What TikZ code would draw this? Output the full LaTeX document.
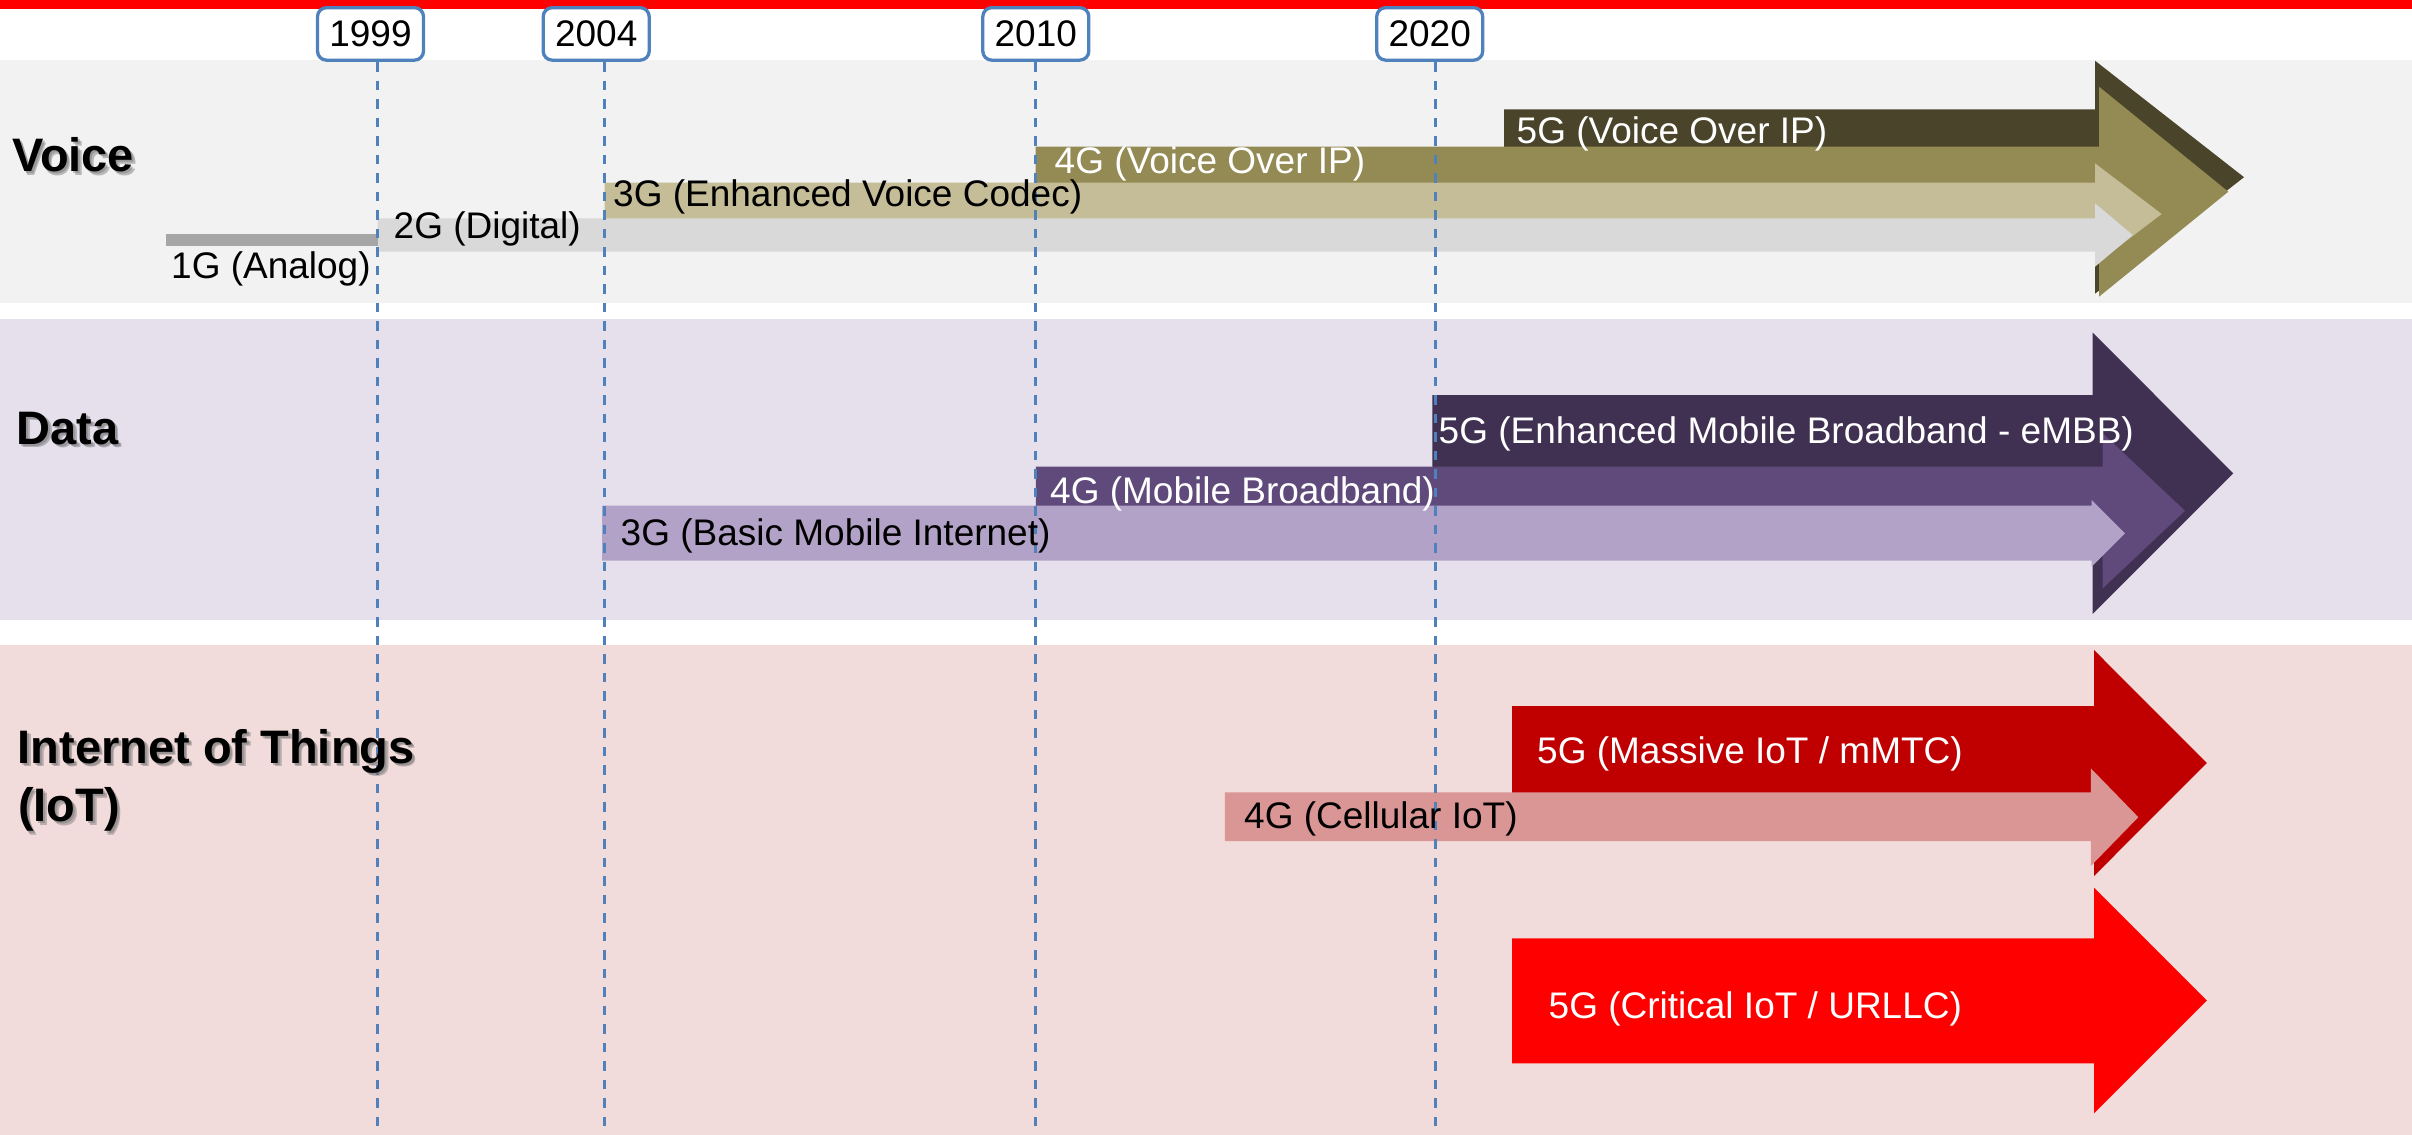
\documentclass[tikz,border=0pt]{standalone}
\usepackage{fontspec}
\setmainfont{Liberation Sans}

% lane backgrounds and guides
\definecolor{bandvoice}{HTML}{F2F2F2}
\definecolor{banddata}{HTML}{E5E0EC}
\definecolor{bandiot}{HTML}{F2DCDB}
\definecolor{yearblue}{HTML}{4F81BD}
\definecolor{topred}{HTML}{FF0000}
% voice generations
\definecolor{vOne}{HTML}{A6A6A6}
\definecolor{vTwo}{HTML}{D9D9D9}
\definecolor{vThree}{HTML}{C4BD97}
\definecolor{vFour}{HTML}{948A54}
\definecolor{vFive}{HTML}{4A452A}
% data generations
\definecolor{dThree}{HTML}{B3A2C7}
\definecolor{dFour}{HTML}{604A7B}
\definecolor{dFive}{HTML}{403152}
% IoT generations
\definecolor{iFour}{HTML}{D99694}
\definecolor{iMassive}{HTML}{C00000}
\definecolor{iCritical}{HTML}{FF0000}

% block arrow: start x, shaft top, shaft bottom, head x, head top, head bottom, tip x
\newcommand\genarrow[8]{%
  \fill[#1] (#2,#3) -- (#5,#3) -- (#5,#6) -- (#8,{(#6+#7)/2}) -- (#5,#7)
    -- (#5,#4) -- (#2,#4) -- cycle;}

\begin{document}
\begin{tikzpicture}[x=1pt,y=-1pt,
  lbl/.style={anchor=base west,inner sep=0pt,font=\fontsize{37}{44}\selectfont},
  lbldark/.style={lbl,text=black},
  lbllight/.style={lbl,text=white},
  lane/.style={anchor=base west,inner sep=0pt,text=black,
    font=\bfseries\fontsize{47}{57}\selectfont},
  laneshadow/.style={lane,text=black!55,opacity=0.45},
  yearbox/.style={draw=yearblue,line width=3.3pt,rounded corners=9pt,
    fill=white,minimum width=106pt,minimum height=52.5pt,inner sep=0pt,
    font=\fontsize{37}{44}\selectfont},
  guide/.style={yearblue,line width=2.6pt,dash pattern=on 9.5pt off 9pt}]

\useasboundingbox (0,0) rectangle (2412,1135);
\fill[white] (0,0) rectangle (2412,1135);

% top rule and lane bands
\fill[topred] (0,0) rectangle (2412,9);
\fill[bandvoice] (0,60) rectangle (2412,302.7);
\fill[banddata] (0,319) rectangle (2412,619.5);
\fill[bandiot] (0,645) rectangle (2412,1135);

% voice lane, oldest generation drawn last
\genarrow{vFive}{1504}{109.3}{245.3}{2095}{60.7}{293.7}{2244}
\genarrow{vFour}{1035.5}{146.7}{236.7}{2099}{86.7}{296.7}{2228.3}
\genarrow{vThree}{604.6}{182.7}{245.3}{2095}{163.3}{264.7}{2161.7}
\genarrow{vTwo}{377.7}{218.3}{251.7}{2095}{203.3}{266.7}{2132.7}
\fill[vOne] (166,234) rectangle (377.7,245.7);

% data lane
\genarrow{dFive}{1432.4}{395}{551.6}{2092.7}{332.7}{614}{2233.3}
\genarrow{dFour}{1035.8}{466.7}{554.9}{2102.7}{433.3}{588.3}{2185}
\genarrow{dThree}{602}{505.7}{560.7}{2091.7}{500}{566.7}{2125}

% IoT lane
\genarrow{iMassive}{1512.2}{706}{820}{2094}{650}{876}{2206.8}
\genarrow{iFour}{1224.9}{792.3}{841}{2090.8}{768.3}{866}{2138.3}
\genarrow{iCritical}{1512.2}{938.3}{1063.3}{2094}{887.7}{1113.3}{2206.8}

% year markers and their guide lines
\coordinate (foot) at (0,1135);
\coordinate (g1999) at (377.7,62);
\coordinate (g2004) at (604.6,62);
\coordinate (g2010) at (1035.5,62);
\coordinate (g2020) at (1435.5,62);
\foreach \g in {g1999,g2004,g2010,g2020}
  \draw[guide] (\g) -- (\g |- foot);

% generation labels
\node[lbldark]  (t1gv) at (171,278.3)    {1G (Analog)};
\node[lbldark]  (t2gv) at (393.5,238)    {2G (Digital)};
\node[lbldark]  (t3gv) at (613,206.7)    {3G (Enhanced Voice Codec)};
\node[lbllight] (t4gv) at (1054.5,173.3) {4G (Voice Over IP)};
\node[lbllight] (t5gv) at (1516.5,143.3) {5G (Voice Over IP)};

\node[lbldark]  (t3gd) at (620.5,545)    {3G (Basic Mobile Internet)};
\node[lbllight] (t4gd) at (1050,503.3)   {4G (Mobile Broadband)};
\node[lbllight] (t5gd) at (1438.5,443.3) {5G (Enhanced Mobile Broadband - eMBB)};

\node[lbldark]  (t4gi) at (1244,828.3)   {4G (Cellular IoT)};
\node[lbllight] (t5gm) at (1537,763.3)   {5G (Massive IoT / mMTC)};
\node[lbllight] (t5gc) at (1548.5,1018.3) {5G (Critical IoT / URLLC)};

% year boxes
\node[yearbox] (y1999) at (370.5,33.9)  {1999};
\node[yearbox] (y2004) at (596.2,33.9)  {2004};
\node[yearbox] (y2010) at (1035.8,33.9) {2010};
\node[yearbox] (y2020) at (1429.7,33.9) {2020};

% lane titles with a soft drop shadow
\foreach \nm/\px/\py/\txt in {voice/12/171.7/Voice,
                              data/16.5/444/Data,
                              iot/17.5/763.3/Internet of Things,
                              iotb/18/821.7/(IoT)} {
  \node[laneshadow] (\nm-sha) at (\px+3.5,\py+3.5) {\txt};
  \node[laneshadow] (\nm-shb) at (\px+2,\py+2) {\txt};
  \node[lane] (\nm) at (\px,\py) {\txt};
}
\end{tikzpicture}
\end{document}
